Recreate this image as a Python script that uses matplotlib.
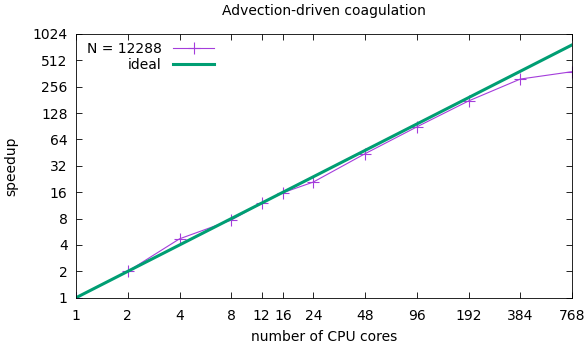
"""Strong scaling of advection-driven coagulation."""

import matplotlib

matplotlib.use("Agg")
import matplotlib.pyplot as plt
from matplotlib.ticker import FixedLocator, NullLocator

cores = [1, 2, 4, 8, 12, 16, 24, 48, 96, 192, 384, 768]
speedup = [1.0, 2.0, 4.7, 7.7, 12.0, 15.8, 20.9, 44.0, 89.0, 176.0, 313.0, 380.0]
ideal_cores = [1, 768]
ideal_speedup = [1, 768]
xticks = [1, 2, 4, 8, 12, 16, 24, 48, 96, 192, 384, 768]
yticks = [1, 2, 4, 8, 16, 32, 64, 128, 256, 512, 1024]

plt.rcParams["font.family"] = "DejaVu Sans"
plt.rcParams["font.size"] = 10

fig = plt.figure(figsize=(5.87, 3.43), dpi=100)
ax = fig.add_axes([0.1295, 0.132, 0.845, 0.769])

ax.plot(
    cores,
    speedup,
    color="#a43ddb",
    lw=0.8,
    marker="+",
    ms=8,
    mew=0.8,
    label="N = 12288",
)
ax.plot(ideal_cores, ideal_speedup, color="#009e73", lw=2.2, label="ideal")

ax.set_xscale("log")
ax.set_yscale("log")
ax.set_xlim(1, 768)
ax.set_ylim(1, 1024)
ax.xaxis.set_major_locator(FixedLocator(xticks))
ax.yaxis.set_major_locator(FixedLocator(yticks))
ax.xaxis.set_minor_locator(NullLocator())
ax.yaxis.set_minor_locator(NullLocator())
ax.set_xticklabels([str(v) for v in xticks])
ax.set_yticklabels([str(v) for v in yticks])
ax.tick_params(
    which="major",
    direction="in",
    top=True,
    right=True,
    length=4,
    width=0.6,
    pad=6,
    labelsize=10,
)
ax.tick_params(axis="x", pad=8)
for s in ax.spines.values():
    s.set_linewidth(0.6)

ax.set_xlabel("number of CPU cores", labelpad=5)
ax.set_ylabel("speedup", labelpad=10)
ax.set_title("Advection-driven coagulation", fontsize=10, pad=14)

ax.legend(
    loc="upper left",
    bbox_to_anchor=(0.005, 1.0),
    frameon=False,
    markerfirst=False,
    handlelength=3.0,
    fontsize=10,
    borderaxespad=0.2,
    labelspacing=0.1,
    alignment="right",
)

fig.savefig("out.png", dpi=100)
